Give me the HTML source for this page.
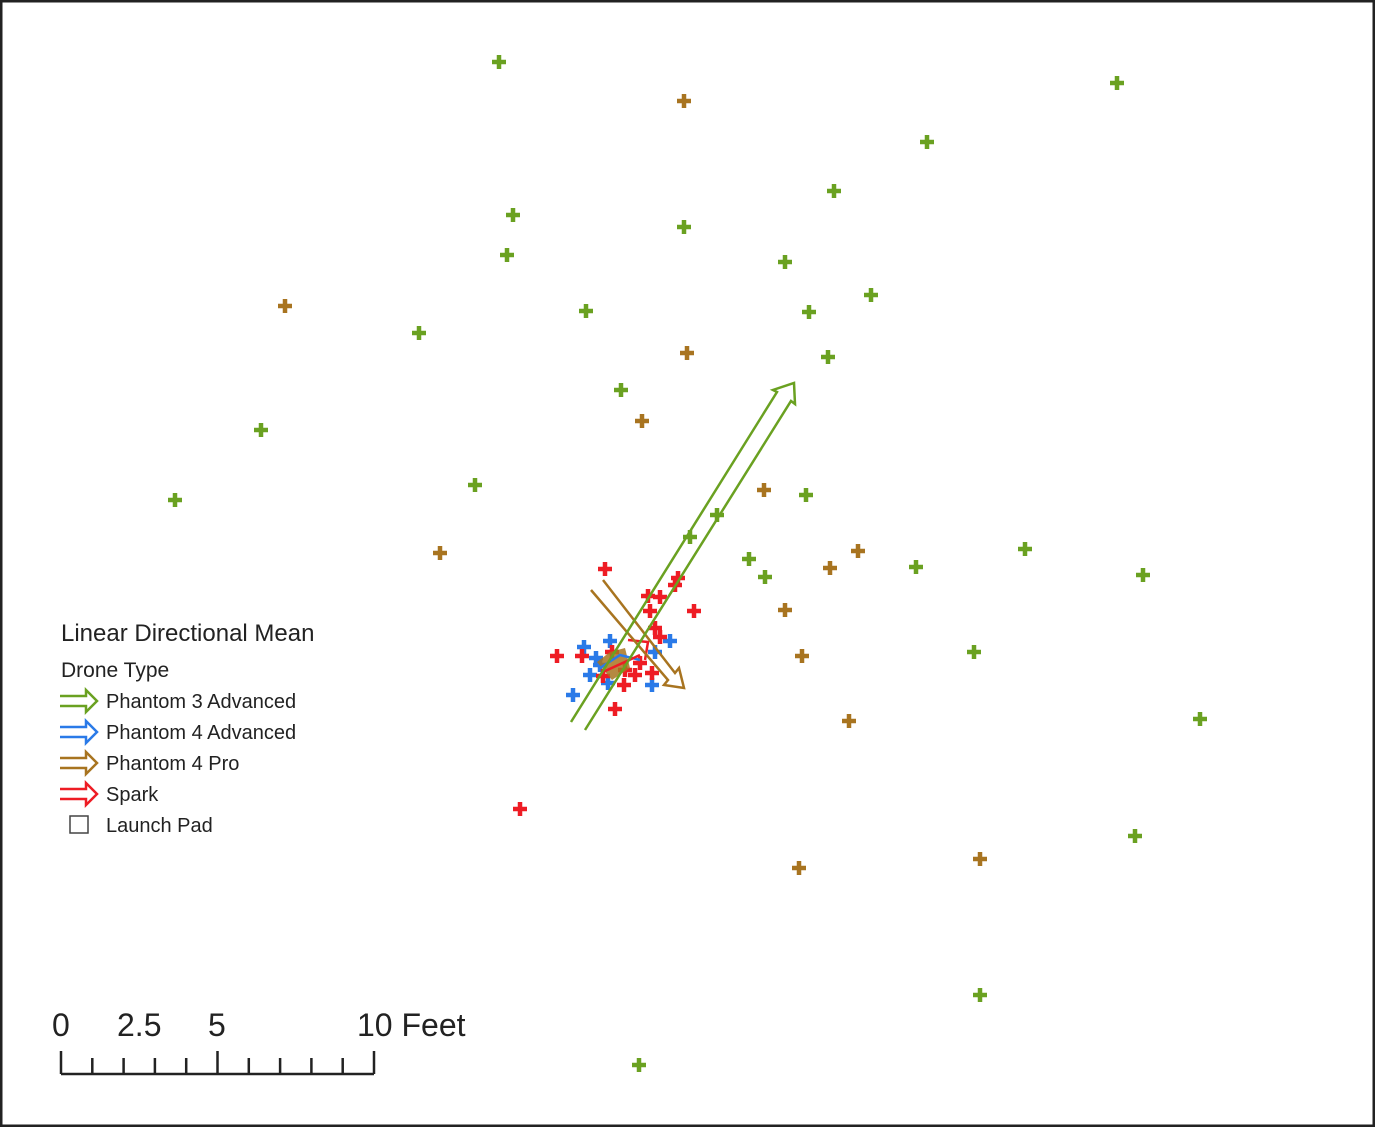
<!DOCTYPE html>
<html><head><meta charset="utf-8"><style>
html,body{margin:0;padding:0;background:#fff}
svg{display:block}
text{font-family:"Liberation Sans",sans-serif;fill:#222}
</style></head><body>
<svg width="1375" height="1127" viewBox="0 0 1375 1127" xmlns="http://www.w3.org/2000/svg">
<defs>
<g id="pg"><path d="M-7 0H7M0 -7V7" stroke="#6aa121" stroke-width="4.5"/></g>
<g id="pb"><path d="M-7 0H7M0 -7V7" stroke="#a87420" stroke-width="4.5"/></g>
<g id="pr"><path d="M-7 0H7M0 -7V7" stroke="#ee1c24" stroke-width="4.5"/></g>
<g id="pu"><path d="M-7 0H7M0 -7V7" stroke="#2a7ae8" stroke-width="4.5"/></g>
</defs>
<rect x="1" y="1" width="1373" height="1125" fill="#fff" stroke="#222" stroke-width="3"/>
<g>
<use href="#pg" x="499" y="62"/><use href="#pg" x="1117" y="83"/><use href="#pg" x="927" y="142"/><use href="#pg" x="834" y="191"/>
<use href="#pg" x="513" y="215"/><use href="#pg" x="684" y="227"/><use href="#pg" x="507" y="255"/><use href="#pg" x="785" y="262"/>
<use href="#pg" x="871" y="295"/><use href="#pg" x="586" y="311"/><use href="#pg" x="809" y="312"/><use href="#pg" x="419" y="333"/>
<use href="#pg" x="828" y="357"/><use href="#pg" x="621" y="390"/><use href="#pg" x="261" y="430"/><use href="#pg" x="175" y="500"/>
<use href="#pg" x="475" y="485"/><use href="#pg" x="806" y="495"/><use href="#pg" x="717" y="515"/><use href="#pg" x="690" y="537"/>
<use href="#pg" x="749" y="559"/><use href="#pg" x="765" y="577"/><use href="#pg" x="916" y="567"/><use href="#pg" x="1025" y="549"/>
<use href="#pg" x="1143" y="575"/><use href="#pg" x="974" y="652"/><use href="#pg" x="1200" y="719"/><use href="#pg" x="1135" y="836"/>
<use href="#pg" x="980" y="995"/><use href="#pg" x="639" y="1065"/>
</g>
<g>
<use href="#pb" x="684" y="101"/><use href="#pb" x="285" y="306"/><use href="#pb" x="687" y="353"/><use href="#pb" x="642" y="421"/>
<use href="#pb" x="764" y="490"/><use href="#pb" x="440" y="553"/><use href="#pb" x="858" y="551"/><use href="#pb" x="830" y="568"/>
<use href="#pb" x="785" y="610"/><use href="#pb" x="802" y="656"/><use href="#pb" x="849" y="721"/><use href="#pb" x="980" y="859"/>
<use href="#pb" x="799" y="868"/>
</g>
<g>
<use href="#pu" x="584" y="647"/><use href="#pu" x="610" y="641"/><use href="#pu" x="670" y="641"/><use href="#pu" x="573" y="695"/>
<use href="#pu" x="652" y="685"/><use href="#pu" x="590" y="675"/><use href="#pu" x="655" y="652"/><use href="#pu" x="600" y="665"/>
<use href="#pu" x="608" y="683"/><use href="#pu" x="596" y="658"/>
</g>
<g>
<use href="#pr" x="605" y="569"/><use href="#pr" x="678" y="578"/><use href="#pr" x="648" y="596"/><use href="#pr" x="660" y="597"/>
<use href="#pr" x="650" y="611"/><use href="#pr" x="694" y="611"/><use href="#pr" x="660" y="637"/><use href="#pr" x="557" y="656"/>
<use href="#pr" x="582" y="656"/><use href="#pr" x="615" y="709"/><use href="#pr" x="520" y="809"/><use href="#pr" x="675" y="585"/>
<use href="#pr" x="612" y="652"/><use href="#pr" x="625" y="670"/><use href="#pr" x="640" y="663"/><use href="#pr" x="635" y="675"/>
<use href="#pr" x="652" y="673"/><use href="#pr" x="624" y="685"/><use href="#pr" x="603" y="676"/><use href="#pr" x="655" y="628"/>
</g>
<path d="M597 662 L610 652 L625 648 L630 668 L612 680 Z" fill="#a87420" opacity="0.85"/>
<path d="M600 668 L620 655 L640 660" fill="none" stroke="#2a7ae8" stroke-width="2.5"/>
<path d="M603 672 L640 655 M628 640 L648 642 L645 660" fill="none" stroke="#ee1c24" stroke-width="2.5"/>
<path d="M591 590 L668 680 L664 685 L684 688 L679 668 L675 673 L603 580" fill="none" stroke="#a87420" stroke-width="2.5"/>
<path d="M571 722 L777 392 L773 390 L794 383 L795 404 L791 401 L585 730" fill="none" stroke="#6aa121" stroke-width="2.5"/>
<text x="61" y="641" font-size="24">Linear Directional Mean</text>
<text x="61" y="677" font-size="21">Drone Type</text>
<g fill="none" stroke-width="2.5">
<path d="M60 696 H86 V690 L97 701 L86 712 V706 H60" stroke="#6aa121"/>
<path d="M60 727 H86 V721 L97 732 L86 743 V737 H60" stroke="#2a7ae8"/>
<path d="M60 758 H86 V752 L97 763 L86 774 V768 H60" stroke="#a87420"/>
<path d="M60 789 H86 V783 L97 794 L86 805 V799 H60" stroke="#ee1c24"/>
</g>
<rect x="70" y="816" width="18" height="17" fill="none" stroke="#444" stroke-width="1.5"/>
<text x="106" y="708" font-size="20">Phantom 3 Advanced</text>
<text x="106" y="739" font-size="20">Phantom 4 Advanced</text>
<text x="106" y="770" font-size="20">Phantom 4 Pro</text>
<text x="106" y="801" font-size="20">Spark</text>
<text x="106" y="832" font-size="20">Launch Pad</text>
<g font-size="32">
<text x="52" y="1036">0</text>
<text x="117" y="1036">2.5</text>
<text x="208" y="1036">5</text>
<text x="357" y="1036">10 Feet</text>
</g>
<path d="M61 1074 H374 M61 1051 V1074 M92.3 1058 V1074 M123.6 1058 V1074 M154.9 1058 V1074 M186.2 1058 V1074 M217.5 1051 V1074 M248.8 1058 V1074 M280.1 1058 V1074 M311.4 1058 V1074 M342.7 1058 V1074 M374 1051 V1074" stroke="#222" stroke-width="2.5" fill="none"/>
</svg>
</body></html>
